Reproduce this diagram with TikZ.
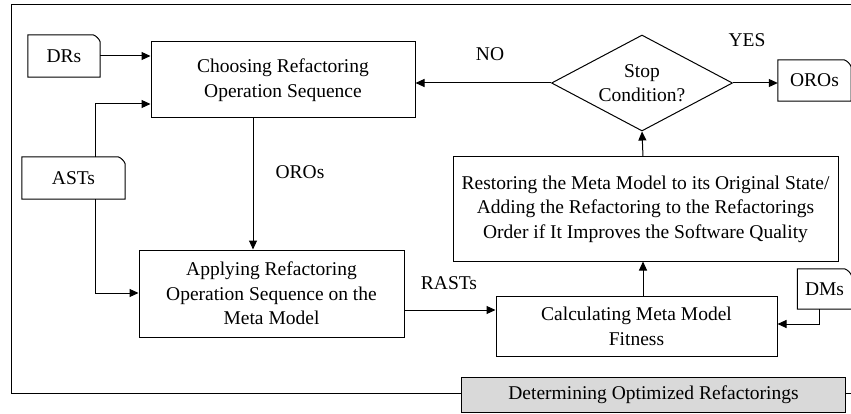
\documentclass[tikz,border=0pt]{standalone}
\usepackage{fontspec}
\setmainfont{Liberation Serif}
\usetikzlibrary{shapes.geometric,arrows.meta}
\tikzset{
  every node/.style={font=\fontsize{19.5}{24.5}\selectfont, align=center, inner sep=0pt},
  box/.style={draw, line width=1pt, rectangle},
  doc/.style={rectangle},
  decision/.style={draw, line width=1pt, diamond, aspect=1.875, minimum width=181pt, minimum height=96pt},
  conn/.style={line width=1pt, -{Triangle[length=9pt,width=8pt]}},
  plain/.style={line width=1pt},
  lbl/.style={}
}
\newcommand{\docoutline}[1]{%
  \draw[line width=1pt] (#1.south west) -- (#1.north west) -- ([xshift=-7pt]#1.north east)
    to[bend left=20] ([yshift=-7pt]#1.north east) -- (#1.south east) -- cycle;}
\begin{document}
\begin{tikzpicture}[x=1pt,y=-1pt]
\useasboundingbox (0,0) rectangle (851,414);
% nodes
\node[doc, minimum width=72pt, minimum height=42pt] (drs) at (64,56) {DRs};
\node[box, minimum width=264pt, minimum height=76pt] (choose) at (283,80) {Choosing Refactoring\\Operation Sequence};
\node[doc, minimum width=103pt, minimum height=42pt] (asts) at (73.5,178) {ASTs};
\node[box, minimum width=265pt, minimum height=87pt] (apply) at (271.5,293.5) {Applying Refactoring\\Operation Sequence on the\\Meta Model};
\node[box, minimum width=281pt, minimum height=60pt] (calc) at (636.5,326.5) {Calculating Meta Model\\Fitness};
\node[doc, minimum width=54pt, minimum height=40pt] (dms) at (824.5,289) {DMs};
\node[box, minimum width=385pt, minimum height=104pt] (restore) at (645.5,209) {Restoring the Meta Model to its Original State/\\Adding the Refactoring to the Refactorings\\Order if It Improves the Software Quality};
\node[decision] (stop) at (642,83) {Stop\\Condition?};
\node[doc, minimum width=73pt, minimum height=41pt] (oros) at (814.5,80.5) {OROs};
\node[box, fill=black!15, minimum width=384pt, minimum height=35pt] (det) at (653.5,394.5) {Determining Optimized Refactorings};
\docoutline{drs}
\docoutline{asts}
\docoutline{dms}
\docoutline{oros}
% labels
\node[lbl] (lno) at (490,54) {NO};
\node[lbl] (lyes) at (747,40) {YES};
\node[lbl] (loros) at (300,172) {OROs};
\node[lbl] (lrasts) at (449,283) {RASTs};
% frame
\coordinate (ftl) at (11,5);
\coordinate (ftr) at (851,5);
\coordinate (fbl) at (11,393);
\coordinate (fbr) at (851,393);
\draw[plain] (ftr) -- (ftl) -- (fbl) -- (det.west |- fbl);
\draw[plain] (det.east |- fbr) -- (fbr);
% connectors
\draw[conn] (drs.east) -- (choose.west |- drs.east);
\coordinate (j1) at (95,104);
\coordinate (j2) at (95,293);
\draw[conn] (asts.north -| j1) -- (j1) -- (choose.west |- j1);
\draw[conn] (asts.south -| j2) -- (j2) -- (apply.west |- j2);
\coordinate (c1) at (253,0);
\draw[conn] (choose.south -| c1) -- (apply.north -| c1);
\coordinate (r1) at (0,310);
\draw[conn] (apply.east |- r1) -- (calc.west |- r1);
\coordinate (d1) at (819,324);
\draw[conn] (dms.south -| d1) -- (d1) -- (calc.east |- d1);
\coordinate (v1) at (643,0);
\draw[conn] (calc.north -| v1) -- (restore.south -| v1);
\draw[conn] (restore.north -| v1) -- (stop.south);
\draw[conn] (stop.west) -- (choose.east |- stop.west);
\draw[conn] (stop.east) -- (oros.west |- stop.east);
\end{tikzpicture}
\end{document}
